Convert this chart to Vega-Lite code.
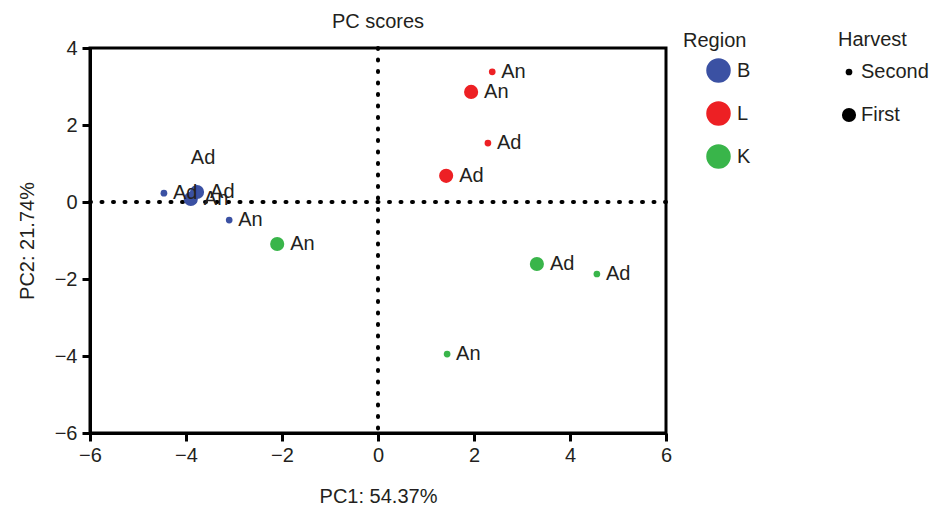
{
  "$schema": "https://vega.github.io/schema/vega-lite/v6.json",
  "width": 576,
  "height": 385,
  "autosize": "none",
  "padding": {"left": 90, "top": 48, "right": 269, "bottom": 76},
  "background": "white",
  "title": {"text": "PC scores", "fontSize": 20, "fontWeight": "normal", "font": "Liberation Sans", "color": "#231f20", "offset": -2, "anchor": "middle"},
  "config": {
    "view": {"stroke": "black", "strokeWidth": 3},
    "font": "Liberation Sans",
    "axis": {"grid": false, "labelFlush": false, "domainColor": "black", "domainWidth": 3, "tickColor": "black", "tickWidth": 3, "tickSize": 8, "labelFontSize": 20, "labelColor": "#231f20", "labelFont": "Liberation Sans", "titleFontSize": 20, "titleFontWeight": "normal", "titleColor": "#231f20", "titleFont": "Liberation Sans"},
    "legend": {"titleFontSize": 20, "titleFontWeight": "normal", "titleColor": "#231f20", "labelFontSize": 20, "labelColor": "#231f20", "padding": 0, "titleFont": "Liberation Sans", "labelFont": "Liberation Sans"}
  },
  "datasets": {
    "scores": [
      {"region": "B", "harvest": "Second", "type": "Ad", "pc1": -4.46, "pc2": 0.23},
      {"region": "B", "harvest": "First", "type": "Ad", "pc1": -3.77, "pc2": 0.26},
      {"region": "B", "harvest": "First", "type": "An", "pc1": -3.9, "pc2": 0.08},
      {"region": "B", "harvest": "Second", "type": "An", "pc1": -3.1, "pc2": -0.47},
      {"region": "L", "harvest": "Second", "type": "An", "pc1": 2.38, "pc2": 3.38},
      {"region": "L", "harvest": "First", "type": "An", "pc1": 1.94, "pc2": 2.86},
      {"region": "L", "harvest": "Second", "type": "Ad", "pc1": 2.29, "pc2": 1.53},
      {"region": "L", "harvest": "First", "type": "Ad", "pc1": 1.42, "pc2": 0.68},
      {"region": "K", "harvest": "First", "type": "An", "pc1": -2.1, "pc2": -1.09},
      {"region": "K", "harvest": "First", "type": "Ad", "pc1": 3.31, "pc2": -1.61},
      {"region": "K", "harvest": "Second", "type": "Ad", "pc1": 4.56, "pc2": -1.87},
      {"region": "K", "harvest": "Second", "type": "An", "pc1": 1.44, "pc2": -3.95}
    ],
    "extra": [
      {"type": "Ad", "pc1": -3.9, "pc2": 1.14}
    ],
    "origin": [
      {"pc1": 0, "pc2": 0}
    ]
  },
  "layer": [
    {
      "data": {"name": "origin"},
      "mark": {"type": "rule", "stroke": "black", "strokeWidth": 4, "strokeDash": [1, 10.5], "strokeCap": "round"},
      "encoding": {"x": {"field": "pc1", "type": "quantitative"}}
    },
    {
      "data": {"name": "origin"},
      "mark": {"type": "rule", "stroke": "black", "strokeWidth": 4, "strokeDash": [1, 10.5], "strokeCap": "round"},
      "encoding": {"y": {"field": "pc2", "type": "quantitative"}}
    },
    {
      "data": {"name": "scores"},
      "mark": {"type": "point", "filled": true, "opacity": 1, "shape": "circle"},
      "encoding": {
        "x": {"field": "pc1", "type": "quantitative", "scale": {"domain": [-6, 6], "nice": false, "zero": false}, "axis": {"values": [-6, -4, -2, 0, 2, 4, 6], "title": "PC1: 54.37%", "labelPadding": 4, "titlePadding": 21}},
        "y": {"field": "pc2", "type": "quantitative", "scale": {"domain": [-6, 4], "nice": false, "zero": false}, "axis": {"values": [-6, -4, -2, 0, 2, 4], "title": "PC2: 21.74%", "labelPadding": 5, "titlePadding": 17}},
        "color": {"field": "region", "type": "nominal", "title": "Region", "scale": {"domain": ["B", "L", "K"], "range": ["#3B51A3", "#ED2024", "#39B54A"]},
          "legend": {"orient": "none", "legendX": 593, "legendY": -17, "symbolSize": 600, "symbolOffset": 23, "symbolStrokeWidth": 0, "titlePadding": 7, "rowPadding": 18, "labelOffset": 6, "symbolType": "circle"}},
        "size": {"field": "harvest", "type": "nominal", "title": "Harvest", "scale": {"domain": ["Second", "First"], "range": [45, 200]},
          "legend": {"orient": "none", "legendX": 748, "legendY": -18, "symbolFillColor": "black", "symbolStrokeWidth": 0, "symbolOffset": 1, "titlePadding": 12, "rowPadding": 23, "labelOffset": 2, "symbolType": "circle"}}
      }
    },
    {
      "data": {"name": "scores"},
      "transform": [{"filter": "datum.harvest === 'First'"}],
      "mark": {"type": "text", "align": "left", "baseline": "middle", "dx": 13, "fontSize": 20, "font": "Liberation Sans", "color": "#231f20"},
      "encoding": {
        "x": {"field": "pc1", "type": "quantitative"},
        "y": {"field": "pc2", "type": "quantitative"},
        "text": {"field": "type"}
      }
    },
    {
      "data": {"name": "scores"},
      "transform": [{"filter": "datum.harvest === 'Second'"}],
      "mark": {"type": "text", "align": "left", "baseline": "middle", "dx": 9, "fontSize": 20, "font": "Liberation Sans", "color": "#231f20"},
      "encoding": {
        "x": {"field": "pc1", "type": "quantitative"},
        "y": {"field": "pc2", "type": "quantitative"},
        "text": {"field": "type"}
      }
    },
    {
      "data": {"name": "extra"},
      "mark": {"type": "text", "align": "left", "baseline": "middle", "fontSize": 20, "font": "Liberation Sans", "color": "#231f20"},
      "encoding": {
        "x": {"field": "pc1", "type": "quantitative"},
        "y": {"field": "pc2", "type": "quantitative"},
        "text": {"field": "type"}
      }
    }
  ]
}
